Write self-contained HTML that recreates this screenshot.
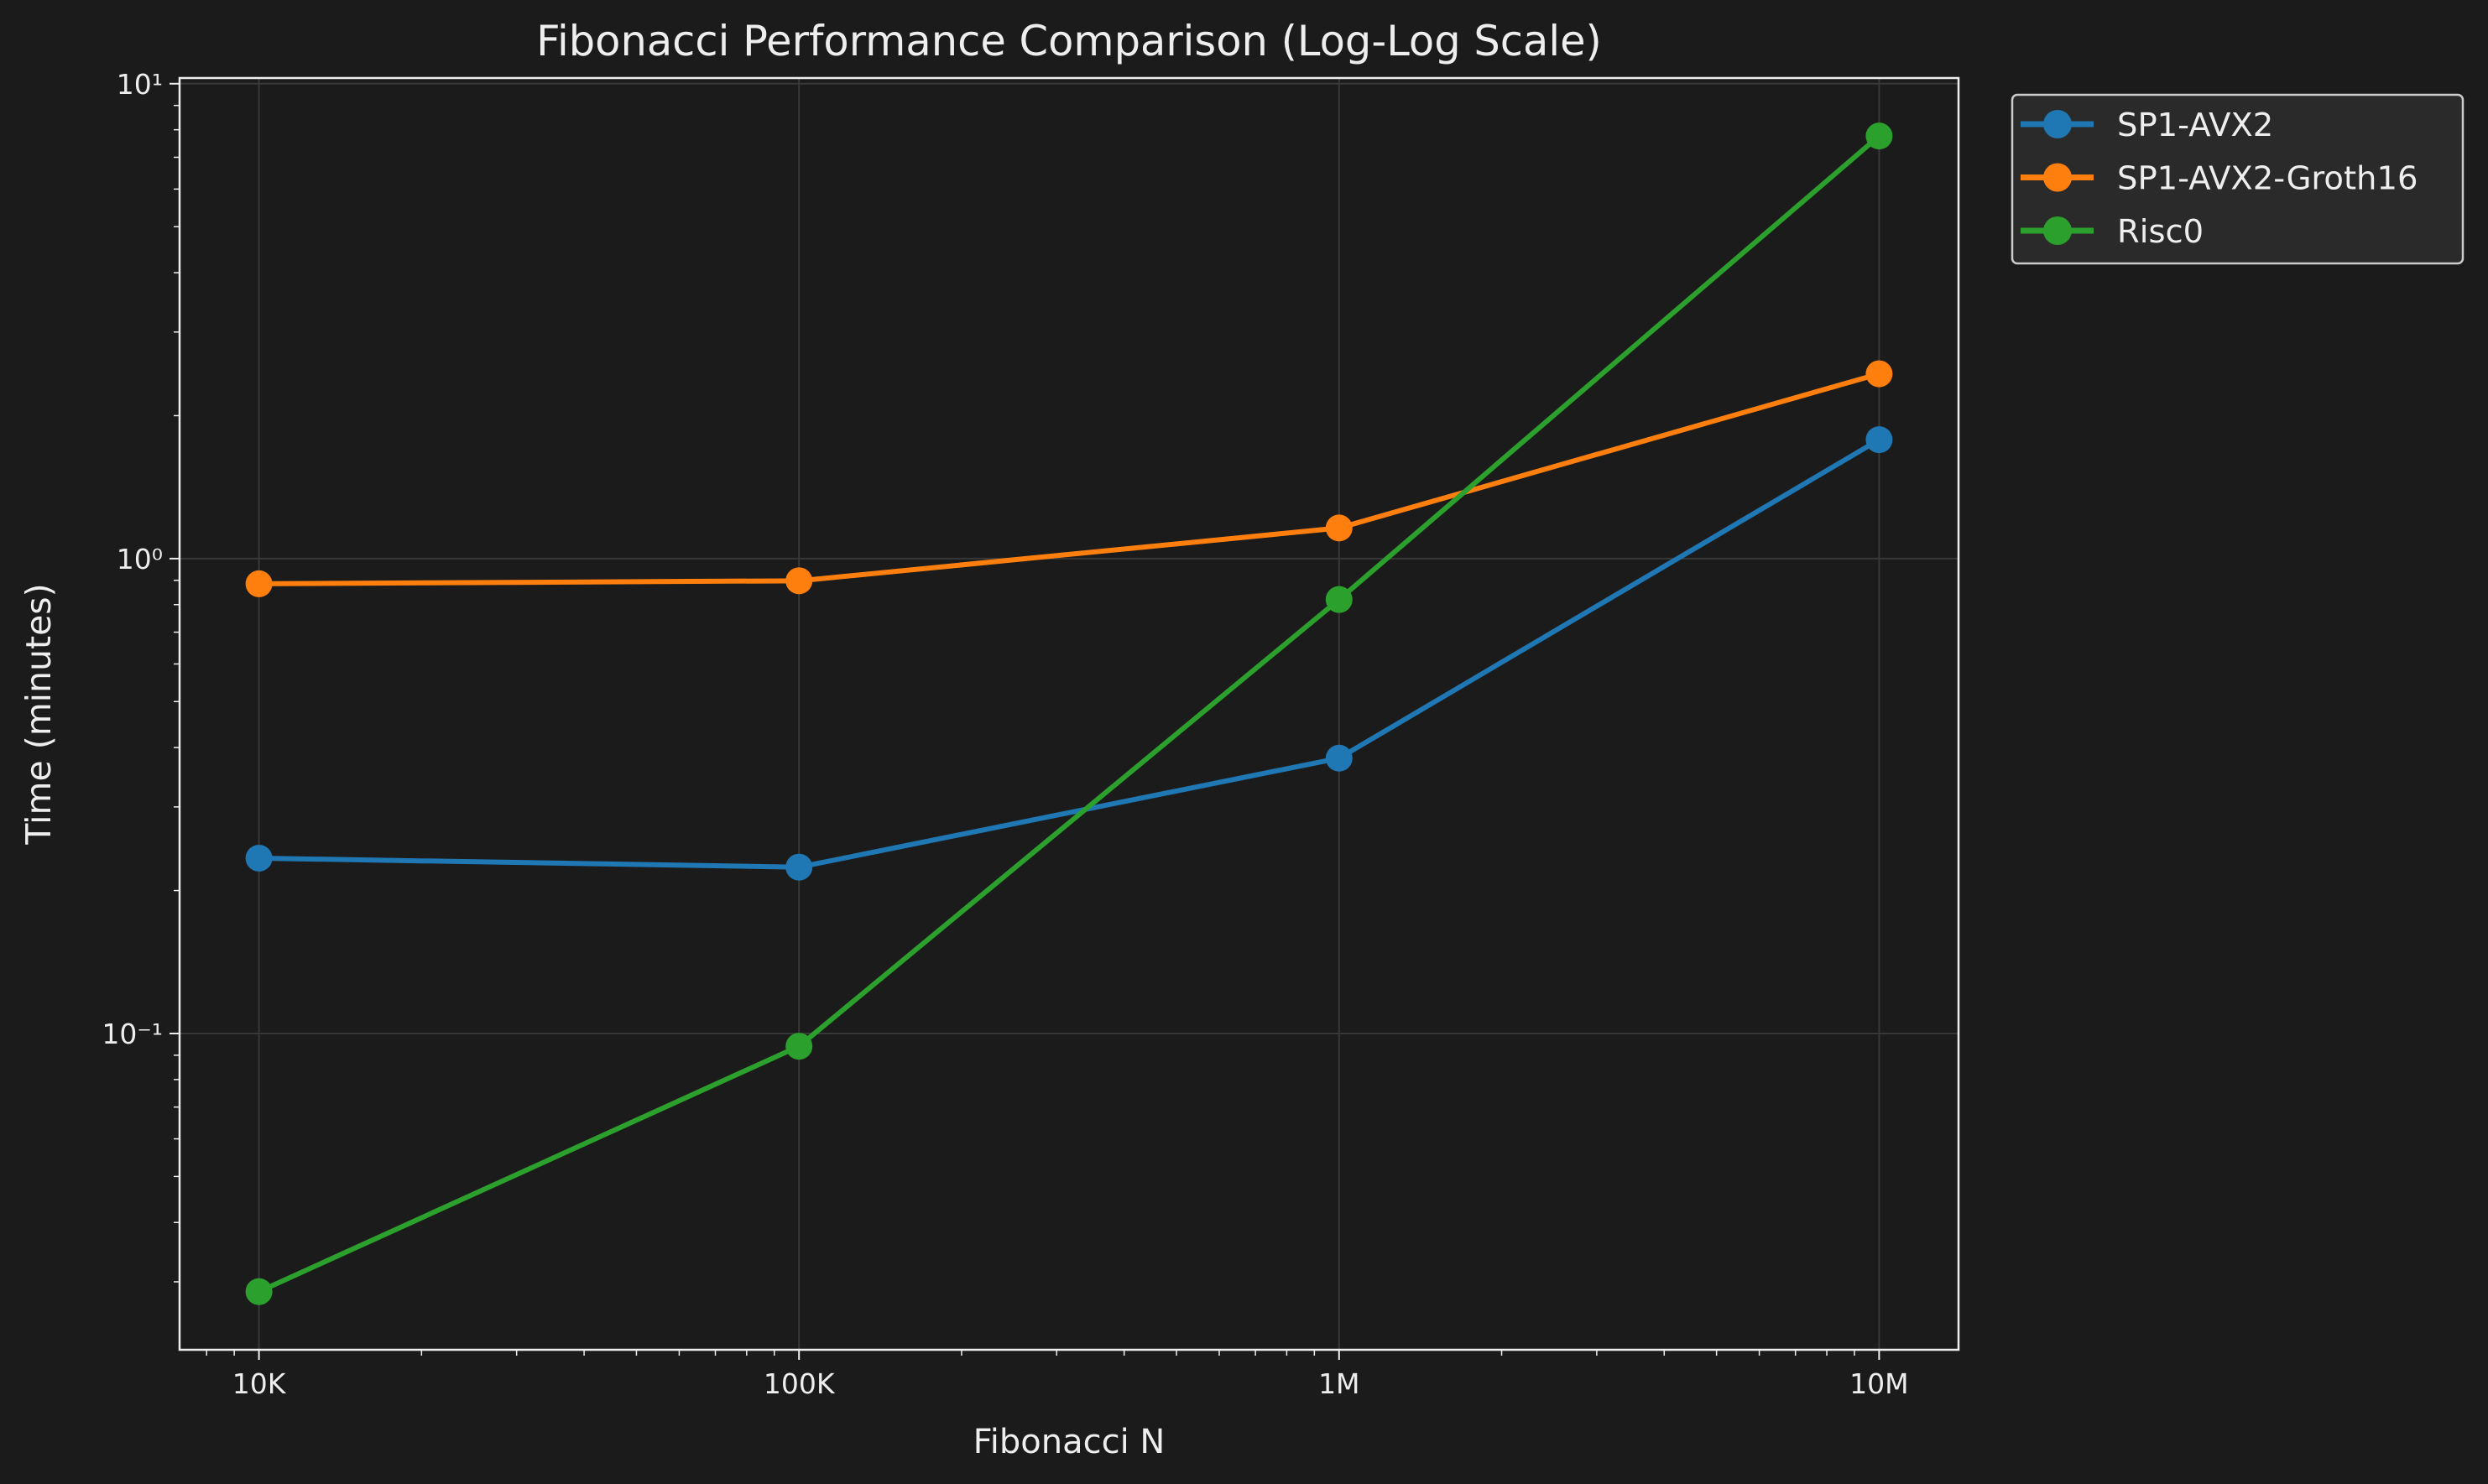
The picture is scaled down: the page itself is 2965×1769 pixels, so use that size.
<!DOCTYPE html>
<html><head><meta charset="utf-8"><style>
html,body{margin:0;padding:0;background:#1b1b1b;}
svg{display:block;font-family:"DejaVu Sans","Liberation Sans",sans-serif;}
</style></head><body>
<svg id="chart" width="2965" height="1769" viewBox="0 0 2965 1769" xmlns="http://www.w3.org/2000/svg">
<rect width="2965" height="1769" fill="#1b1b1b"/>
<g id="grid"></g>
<g id="ticks"></g>
<g id="series"></g>
<rect x="214" y="93" width="2120" height="1516" fill="none" stroke="#eeeeee" stroke-width="2.5"/>
<text x="1274" y="66" fill="#eeeeee" font-size="49.5" text-anchor="middle">Fibonacci Performance Comparison (Log-Log Scale)</text>
<text x="1274" y="1732" fill="#eeeeee" font-size="40" text-anchor="middle">Fibonacci N</text>
<text x="60" y="851" fill="#eeeeee" font-size="41" text-anchor="middle" transform="rotate(-90 60 851)">Time (minutes)</text>
<g>
<rect x="2398" y="113" width="537" height="201" rx="6" fill="#2a2a2a" stroke="#cccccc" stroke-width="2.5"/>
<g id="legend-items"></g>
</g>
</svg>
<script>
const categories = ["10K","100K","1M","10M"];
const xValues = [1e4,1e5,1e6,1e7];
const seriesNames = ["SP1-AVX2","SP1-AVX2-Groth16","Risc0"];
const sp1Avx2 = [0.234,0.224,0.38,1.78];
const sp1Groth16 = [0.885,0.898,1.16,2.45];
const risc0 = [0.0286,0.094,0.82,7.76];
const yTickLabels = ["10\u207B\u00B9","10\u2070","10\u00B9"];
const yTickValues = [0.1,1,10];

const L=214,R=2334,T=93,B=1609;
const xmin=3.853,xmax=7.147,ymin=-1.666,ymax=1.012;
const xs=v=>L+(Math.log10(v)-xmin)/(xmax-xmin)*(R-L);
const ys=v=>B-(Math.log10(v)-ymin)/(ymax-ymin)*(B-T);
const NS="http://www.w3.org/2000/svg";
function mk(tag,attrs,parent){const e=document.createElementNS(NS,tag);for(const k in attrs)e.setAttribute(k,attrs[k]);parent.appendChild(e);return e;}
const grid=document.getElementById('grid'),ticks=document.getElementById('ticks'),ser=document.getElementById('series');
xValues.forEach((v,i)=>{const x=xs(v);
 const g=mk('line',{x1:x,x2:x,y1:T,y2:B,stroke:'#383838',"stroke-width":2},grid);
 
 mk('line',{x1:x,x2:x,y1:B,y2:B+12,stroke:'#eee',"stroke-width":2},ticks);
 const t=mk('text',{x:x,y:B+52,fill:'#eee',"font-size":33,"text-anchor":"middle"},ticks);t.textContent=categories[i];
 
});
for(let d=3;d<=7;d++)for(let m=2;m<=9;m++){const v=m*Math.pow(10,d);const lv=Math.log10(v);if(lv<xmin||lv>xmax)continue;const x=xs(v);mk('line',{x1:x,x2:x,y1:B,y2:B+7,stroke:'#eee',"stroke-width":1.5},ticks);}
yTickValues.forEach((v,i)=>{const y=ys(v);
 const g=mk('line',{x1:L,x2:R,y1:y,y2:y,stroke:'#383838',"stroke-width":2},grid);
 
 mk('line',{x1:L-12,x2:L,y1:y,y2:y,stroke:'#eee',"stroke-width":2},ticks);
 const t=mk('text',{x:L-20,y:y+12,fill:'#eee',"font-size":33,"text-anchor":"end"},ticks);t.textContent=yTickLabels[i];
 
});
for(let d=-2;d<=0;d++)for(let m=2;m<=9;m++){const v=m*Math.pow(10,d);const lv=Math.log10(v);if(lv<ymin||lv>ymax)continue;const y=ys(v);mk('line',{x1:L-7,x2:L,y1:y,y2:y,stroke:'#eee',"stroke-width":1.5},ticks);}
const allSeries=[sp1Avx2,sp1Groth16,risc0];
const colors=['#1f77b4','#ff7f0e','#2ca02c'];
allSeries.forEach((data,si)=>{
 const p=mk('polyline',{points:data.map((v,i)=>xs(xValues[i])+','+ys(v)).join(' '),fill:'none',stroke:colors[si],"stroke-width":6},ser);
 
 data.forEach((v,i)=>{const c=mk('circle',{cx:xs(xValues[i]),cy:ys(v),r:16,fill:colors[si]},ser);
  });
});
const li=document.getElementById('legend-items');
seriesNames.forEach((n,i)=>{const y=148+i*63.5;
 mk('line',{x1:2408,x2:2495,y1:y,y2:y,stroke:colors[i],"stroke-width":7},li);
 mk('circle',{cx:2452,cy:y,r:17,fill:colors[i]},li);
 const t=mk('text',{x:2523,y:y+14,fill:'#eee',"font-size":38.5},li);t.textContent=n;
 
});
</script>
</body></html>
